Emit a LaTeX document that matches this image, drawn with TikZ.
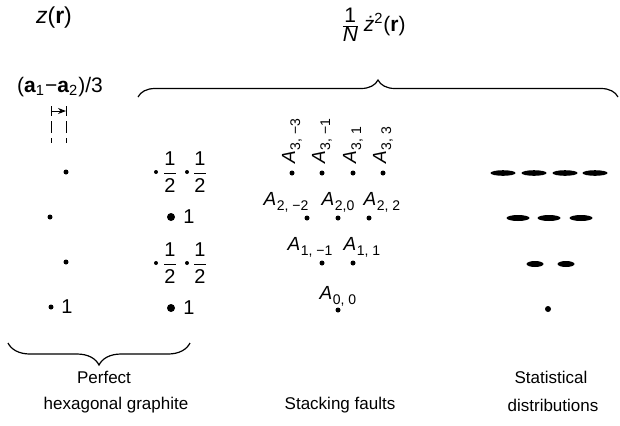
\documentclass[tikz,border=0pt]{standalone}
\usepackage{fontspec}
\setmainfont{Liberation Sans}
\usetikzlibrary{decorations.pathreplacing,arrows.meta,shapes.geometric}
\newcommand{\Asub}[1]{{\fontsize{9.5}{11}\selectfont\textit{A}}\kern0.03em\raisebox{-0.55ex}{\fontsize{7}{8}\selectfont #1}}
\newcommand{\halfval}{{\fontsize{10}{12}\selectfont$\displaystyle\frac{\mbox{1}}{\mbox{2}}$}}
\begin{document}
\begin{tikzpicture}[x=0.5pt, y=-0.5pt,
  every node/.style={font=\fontsize{8.5}{10}\selectfont, inner sep=0pt},
  digit/.style={font=\fontsize{10}{12}\selectfont},
  head/.style={font=\fontsize{10.5}{12}\selectfont},
  pdot/.style={circle, fill, inner sep=0pt, minimum size=#1},
  pdot/.default=2.5pt,
  blob/.style={ellipse, fill, inner sep=0pt},
  bracepath/.style={decorate, line width=0.6pt, decoration={brace, amplitude=#1}},
  guide/.style={line width=0.5pt}]
\useasboundingbox (0,0) rectangle (620,425);

% headings
\node[font=\fontsize{11.5}{13}\selectfont] (zr) at (54,18) {\textit{z}(\textbf{r})};
\node[head] (zz) at (373,25) {$\frac{\mbox{1}}{\mbox{\itshape N}}$\,\textit{\.z}\textsuperscript{2}(\textbf{r})};
\node[head] (shift) at (60,87) {(\textbf{a}\textsubscript{1}−\textbf{a}\textsubscript{2})/3};

% shift marker
\coordinate (lt) at (51,106); \coordinate (lb) at (51,116);
\coordinate (rt) at (66,106); \coordinate (rb) at (66,116);
\coordinate (lm) at (51,111); \coordinate (rm) at (66,111);
\coordinate (ld1) at (51,121); \coordinate (ld2) at (51,143);
\coordinate (rd1) at (66,121); \coordinate (rd2) at (66,143);
\draw[guide] (lt) -- (lb);
\draw[guide] (rt) -- (rb);
\draw[guide, -{Stealth[length=4pt,width=3pt]}] (lm) -- (rm);
\draw[guide, dash pattern=on 6pt off 2.5pt] (ld1) -- (ld2);
\draw[guide, dash pattern=on 6pt off 2.5pt] (rd1) -- (rd2);

% braces
\coordinate (tb1) at (138,97); \coordinate (tb2) at (618,97);
\draw[bracepath=8.5pt] (tb1) -- (tb2);
\coordinate (bb1) at (190,343); \coordinate (bb2) at (8,343);
\draw[bracepath=11pt] (bb1) -- (bb2);

% column 1: z(r)
\node[pdot] (c1a) at (66,172) {};
\node[pdot] (c1b) at (50,217) {};
\node[pdot] (c1c) at (66,262) {};
\node[pdot] (c1d) at (51,307) {};
\node[digit] (c1d1) at (67,307) {1};

% column 2: perfect graphite
\node[pdot=2pt] (c2a1) at (156,172) {};
\node (c2a1h) at (170,172) {\halfval};
\node[pdot=2pt] (c2a2) at (187,172) {};
\node (c2a2h) at (200,172) {\halfval};
\node[pdot=4pt] (c2b) at (171,217) {};
\node[digit] (c2b1) at (189,217) {1};
\node[pdot=2pt] (c2c1) at (156,263) {};
\node (c2c1h) at (170,263) {\halfval};
\node[pdot=2pt] (c2c2) at (187,263) {};
\node (c2c2h) at (200,263) {\halfval};
\node[pdot=4pt] (c2d) at (171,308) {};
\node[digit] (c2d1) at (189,308) {1};

% column 3: stacking faults
\node[pdot] (a3m3) at (292,173) {};
\node[pdot] (a3m1) at (322,173) {};
\node[pdot] (a3p1) at (353,173) {};
\node[pdot] (a3p3) at (383,173) {};
\node[rotate=90, anchor=west] (la3m3) at (292,164) {\Asub{3, −3}};
\node[rotate=90, anchor=west] (la3m1) at (322,164) {\Asub{3, −1}};
\node[rotate=90, anchor=west] (la3p1) at (353,164) {\Asub{3, 1}};
\node[rotate=90, anchor=west] (la3p3) at (383,164) {\Asub{3, 3}};
\node[pdot] (a2m2) at (307,218) {};
\node[pdot] (a2z) at (338,218) {};
\node[pdot] (a2p2) at (369,218) {};
\node (la2m2) at (286,202) {\Asub{2, −2}};
\node (la2z) at (338,202) {\Asub{2,0}};
\node (la2p2) at (382,202) {\Asub{2, 2}};
\node[pdot] (a1m1) at (322,263) {};
\node[pdot] (a1p1) at (353,263) {};
\node (la1m1) at (310,247) {\Asub{1, −1}};
\node (la1p1) at (362,247) {\Asub{1, 1}};
\node[pdot] (a0) at (338,310) {};
\node (la0) at (338,296) {\Asub{0, 0}};

% column 4: statistical distributions
\node[blob, minimum width=12.5pt, minimum height=2.8pt] (e31) at (503,173) {};
\node[blob, minimum width=12.5pt, minimum height=2.8pt] (e32) at (534,173) {};
\node[blob, minimum width=12.5pt, minimum height=2.8pt] (e33) at (565,173) {};
\node[blob, minimum width=12.5pt, minimum height=2.8pt] (e34) at (595,173) {};
\node[blob, minimum width=11.5pt, minimum height=3pt] (e21) at (518,218) {};
\node[blob, minimum width=11.5pt, minimum height=3pt] (e22) at (549,218) {};
\node[blob, minimum width=11.5pt, minimum height=3pt] (e23) at (581,218) {};
\node[blob, minimum width=8.5pt, minimum height=3pt] (e11) at (535,264) {};
\node[blob, minimum width=8.5pt, minimum height=3pt] (e12) at (566,264) {};
\node[pdot=3pt] (e0) at (548,309) {};

% captions
\node (cap1a) at (104,377) {Perfect};
\node (cap1b) at (116,405) {hexagonal graphite};
\node (cap2) at (340,405) {Stacking faults};
\node (cap3a) at (551,377) {Statistical};
\node (cap3b) at (553,405) {distributions};
\end{tikzpicture}
\end{document}
